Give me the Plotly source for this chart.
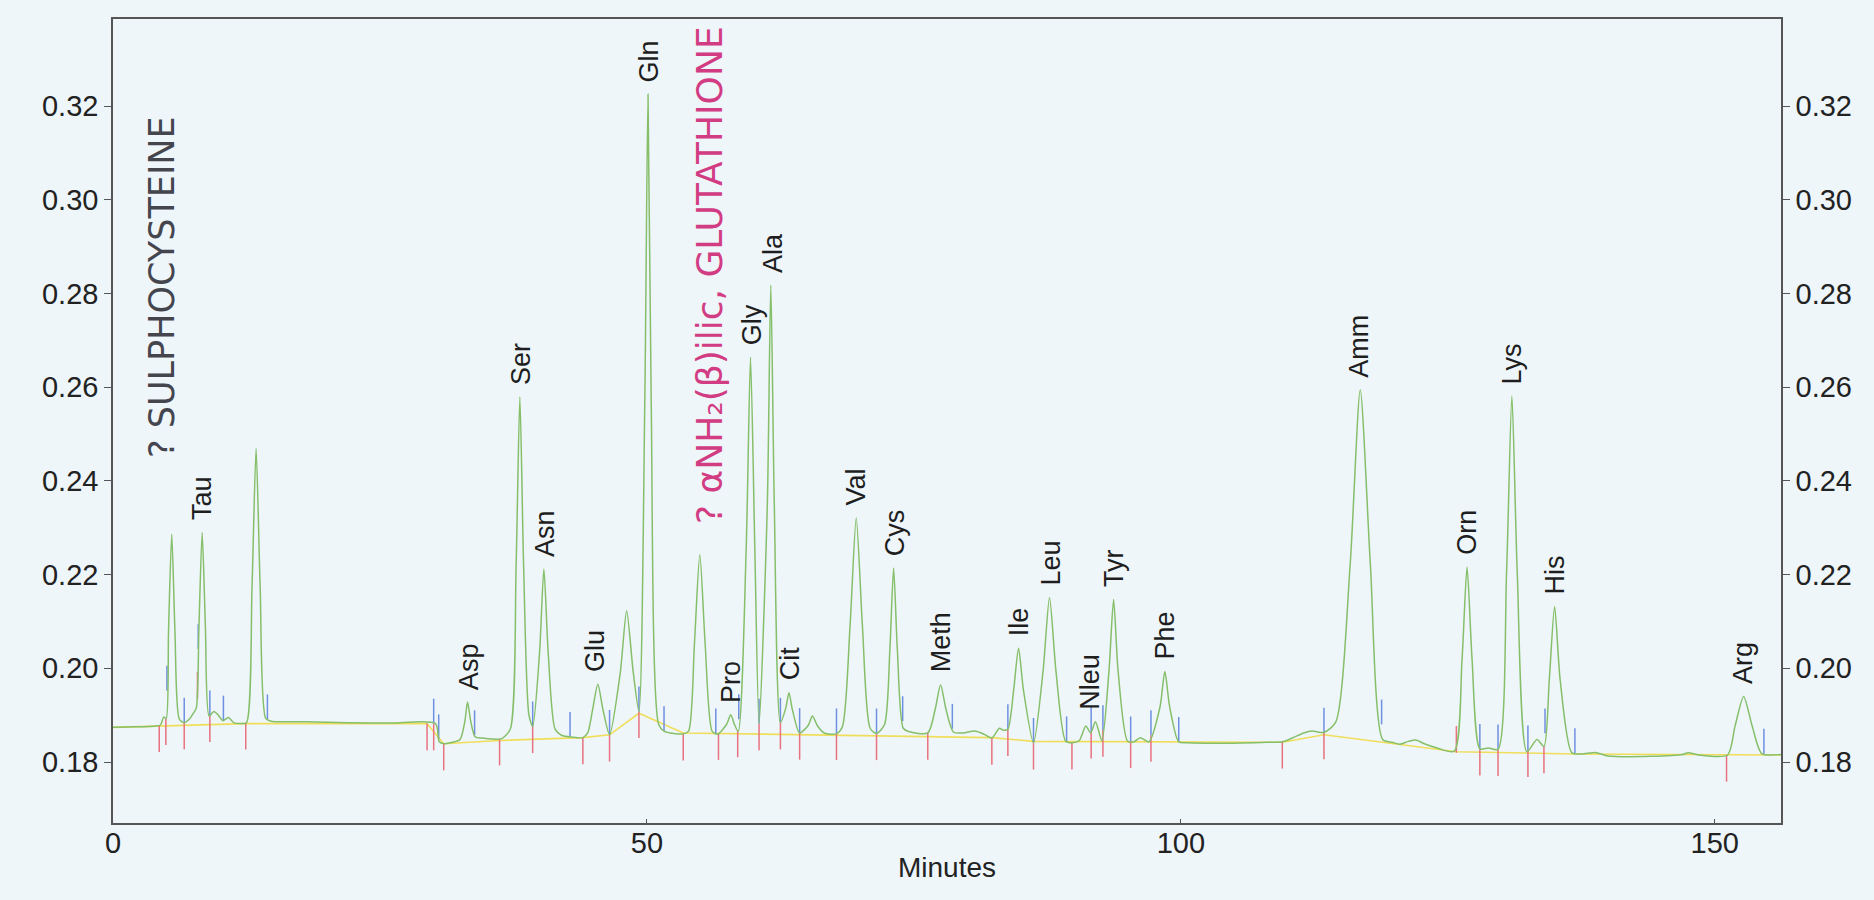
import numpy as np
import plotly.graph_objects as go

# ---------------- data ----------------
# green detector trace: retention time (minutes) and absorbance
trace_t = [0.0, 2.0, 4.0, 4.45, 4.75, 4.98, 5.2, 5.5, 5.8, 6.2, 6.65,
           7.2, 7.55, 7.8, 8.05, 8.35, 8.65, 9.0,
           9.45, 9.9, 10.3, 10.8, 11.3, 12.0, 12.5,
           13.02, 13.4, 13.78, 14.3, 14.8,
           18.0, 22.0, 26.0, 30.2, 30.55, 31.0, 31.8, 32.5,
           32.95, 33.2, 33.5, 33.9, 34.6, 35.5, 36.4,
           37.2, 37.75, 38.1, 38.45, 38.95, 39.3,
           39.95, 40.35, 40.75, 41.4, 42.0, 43.0, 44.0,
           44.45, 44.9, 45.4, 45.9, 46.5,
           47.5, 48.1, 48.7, 49.25,
           49.8, 50.1, 50.4, 51.1, 51.6, 52.5, 53.4,
           53.9, 54.45, 54.95, 55.45, 56.1, 56.6,
           57.45, 57.85, 58.2, 58.55,
           59.3, 59.7, 60.1, 60.5,
           61.27, 61.6, 61.93, 62.5,
           63.0, 63.3, 63.62, 64.3,
           65.1, 65.5, 65.95, 66.6, 67.7,
           68.3, 69.02, 69.6, 70.18, 70.9, 71.5,
           72.25, 72.75, 73.1, 73.45, 74.0, 74.5, 76.3,
           77.0, 77.5, 78.0, 78.7, 79.6, 80.7, 81.6, 82.3, 83.0, 83.4, 83.8,
           84.35, 84.8, 85.25, 86.2,
           87.1, 87.7, 88.3, 89.2, 89.8,
           90.5, 91.1, 91.55, 92.0, 92.6,
           93.27, 93.7, 94.12, 95.0, 95.6, 96.2, 97.0,
           98.05, 98.5, 98.95, 99.8, 100.6,
           104.0, 108.0, 109.5, 110.6, 111.5, 112.3, 113.4,
           114.5, 115.85, 116.8, 117.75, 118.9, 119.8, 120.5, 121.3, 122.0, 122.8, 124.0, 125.6,
           126.33, 126.8, 127.27, 128.0, 128.8, 129.7,
           130.5, 131.0, 131.5, 132.4, 133.35, 134.0,
           134.5, 135.0, 135.52, 136.6, 137.5, 138.9, 140.0, 144.0, 147.0, 147.5, 148.5, 151.2,
           151.9, 152.7, 153.5, 154.4, 156.2]
trace_v = [0.1874, 0.1875, 0.1877, 0.1879, 0.1896, 0.1893, 0.2080, 0.2286, 0.2080, 0.1892, 0.1884,
           0.1893, 0.1905, 0.1915, 0.2090, 0.2290, 0.2090, 0.1898,
           0.1908, 0.1899, 0.1888, 0.1895, 0.1884, 0.1882, 0.1884,
           0.2175, 0.2469, 0.2175, 0.1893, 0.1887,
           0.1886, 0.1884, 0.1883, 0.1882, 0.1843, 0.1839, 0.1842, 0.1848,
           0.1887, 0.1928, 0.1887, 0.1854, 0.1851, 0.1849, 0.1850,
           0.1870, 0.2220, 0.2579, 0.2220, 0.1900, 0.1876,
           0.2035, 0.2212, 0.2035, 0.1870, 0.1857, 0.1853, 0.1852,
           0.1862, 0.1910, 0.1966, 0.1910, 0.1858,
           0.1990, 0.2123, 0.1995, 0.1908,
           0.2570, 0.3225, 0.2570, 0.1880, 0.1866, 0.1861, 0.1860,
           0.1866, 0.2053, 0.2243, 0.2053, 0.1866, 0.1859,
           0.1880, 0.1901, 0.1880, 0.1865,
           0.2260, 0.2664, 0.2260, 0.1882,
           0.2345, 0.2818, 0.2345, 0.1884,
           0.1915, 0.1948, 0.1912, 0.1862,
           0.1878, 0.1898, 0.1878, 0.1862, 0.1860,
           0.1875, 0.2090, 0.2321, 0.2090, 0.1872, 0.1861,
           0.1880, 0.2040, 0.2214, 0.2040, 0.1872, 0.1865, 0.1862,
           0.1913, 0.1965, 0.1913, 0.1864, 0.1862, 0.1866, 0.1859, 0.1851, 0.1872, 0.1868, 0.1870,
           0.1955, 0.2043, 0.1955, 0.1841,
           0.1995, 0.2151, 0.1995, 0.1845, 0.1841,
           0.1846, 0.1877, 0.1862, 0.1886, 0.1846,
           0.1995, 0.2147, 0.1995, 0.1845, 0.1843, 0.1852, 0.1843,
           0.1918, 0.1993, 0.1918, 0.1843, 0.1841,
           0.1840, 0.1842, 0.1843, 0.1853, 0.1862, 0.1866, 0.1863,
           0.1885, 0.2220, 0.2594, 0.2220, 0.1848, 0.1842, 0.1838, 0.1844, 0.1847, 0.1839, 0.1830, 0.1823,
           0.2019, 0.2216, 0.2019, 0.1828, 0.1830, 0.1827,
           0.2205, 0.2581, 0.2205, 0.1822, 0.1848, 0.1833,
           0.1975, 0.2132, 0.1975, 0.1820, 0.1817, 0.1820, 0.1813, 0.1812, 0.1816, 0.1820, 0.1815, 0.1815,
           0.1877, 0.1940, 0.1877, 0.1818, 0.1816]

# yellow integration baseline
base_t = [0.0, 4.3, 12.4, 29.4, 30.97, 36.2, 44.0, 46.5, 49.25, 53.4, 67.7,
          82.3, 86.2, 97.2, 109.5, 113.4, 118.8, 125.8, 136.9, 151.1, 156.2]
base_v = [0.1874, 0.1877, 0.1882, 0.1882, 0.1839, 0.1846, 0.1852, 0.1858, 0.1904, 0.1862, 0.1857,
          0.1852, 0.1844, 0.1843, 0.1842, 0.1858, 0.1842, 0.1822, 0.1817, 0.1815, 0.1815]

# red (peak start) and blue (peak end) integration markers, minutes
red_t = [4.33, 4.95, 6.67, 7.91, 9.07, 12.43, 29.41, 30.03, 30.97, 36.2, 39.3, 44.0,
         46.5, 49.25, 53.4, 56.7, 58.5, 60.5, 62.5, 64.3, 67.75, 71.5, 76.3, 82.3,
         83.8, 86.2, 89.8, 91.6, 92.7, 95.3, 97.2, 109.5, 113.4, 125.8, 128.0, 129.7,
         132.5, 134.0, 151.1]
blue_t = [5.05, 6.67, 7.98, 9.07, 10.34, 14.46, 30.03, 30.5, 33.86, 39.3, 42.8, 46.5,
          49.25, 51.6, 56.45, 58.6, 60.5, 62.5, 64.3, 67.75, 71.5, 73.95, 78.6, 83.8,
          86.2, 89.3, 91.6, 92.7, 95.3, 97.2, 99.8, 113.4, 118.8, 128.0, 129.7, 132.5,
          134.1, 136.9, 154.6]

# peak names
label_names = ["Tau", "Asp", "Ser", "Asn", "Glu", "Gln", "Pro", "Gly", "Ala", "Cit",
               "Val", "Cys", "Meth", "Ile", "Leu", "Nleu", "Tyr", "Phe", "Amm", "Orn",
               "Lys", "His", "Arg"]
label_t = [8.4, 33.3, 38.2, 40.5, 45.2, 50.2, 57.8, 59.8, 61.8, 63.4,
           69.6, 73.2, 77.5, 84.8, 87.8, 91.5, 93.8, 98.5, 116.7, 126.8,
           131.0, 135.0, 152.7]
label_v = [0.2290, 0.1928, 0.2579, 0.2212, 0.1966, 0.3225, 0.1901, 0.2664, 0.2818, 0.1948,
           0.2321, 0.2214, 0.1965, 0.2043, 0.2151, 0.1886, 0.2147, 0.1993, 0.2594, 0.2216,
           0.2581, 0.2132, 0.1940]

# handwritten notes
note_text = ["? SULPHOCYSTEINE", "? αNH₂(β)ilic, GLUTATHIONE"]
note_t = [4.6, 55.8]
note_v = [0.2814, 0.2839]
note_size = [35, 36]
note_color = ["#45454e", "#d23c82"]

y_ticks = [0.18, 0.20, 0.22, 0.24, 0.26, 0.28, 0.30, 0.32]
x_ticks = [0, 50, 100, 150]

# ---------------- styles ----------------
BG = "#eef6fa"
FONT = "Liberation Sans, Arial, sans-serif"
RED_LEN = 0.0057
BLUE_LEN = 0.0053
X_RANGE = [0, 156.2]
Y_RANGE = [0.16698, 0.33858]


def marker_segments(times, up):
    xs, ys = [], []
    for t in times:
        y0 = float(np.interp(t, trace_t, trace_v))
        y1 = y0 + BLUE_LEN if up else y0 - RED_LEN
        xs += [t, t, None]
        ys += [y0, y1, None]
    return xs, ys


fig = go.Figure()

fig.add_trace(go.Scatter(x=base_t, y=base_v, mode="lines",
                         line=dict(color="#f0de5a", width=1.6), hoverinfo="skip"))

rx, ry = marker_segments(red_t, up=False)
bx, by = marker_segments(blue_t, up=True)
fig.add_trace(go.Scatter(x=rx, y=ry, mode="lines",
                         line=dict(color="#e8727e", width=1.5), hoverinfo="skip"))
fig.add_trace(go.Scatter(x=bx, y=by, mode="lines",
                         line=dict(color="#6f8fe0", width=1.5), hoverinfo="skip"))

fig.add_trace(go.Scatter(x=trace_t, y=trace_v, mode="lines",
                         line=dict(color="#86bf6a", width=1.5, shape="spline", smoothing=0.7),
                         hoverinfo="skip"))

# invisible trace to carry the right-hand axis
fig.add_trace(go.Scatter(x=[X_RANGE[0]], y=[Y_RANGE[0]], yaxis="y2", mode="markers",
                         marker=dict(opacity=0), hoverinfo="skip"))

for name, t, v in zip(label_names, label_t, label_v):
    fig.add_annotation(x=t, y=v, text=name, showarrow=False, textangle=-90,
                       xanchor="center", yanchor="bottom", yshift=10,
                       font=dict(family=FONT, size=27, color="#1e1e1e"))

for txt, t, v, s, c in zip(note_text, note_t, note_v, note_size, note_color):
    fig.add_annotation(x=t, y=v, text=txt, showarrow=False, textangle=-90,
                       xanchor="center", yanchor="middle",
                       font=dict(family="DejaVu Sans, sans-serif", size=s, color=c))

axis_common = dict(showgrid=False, zeroline=False, showline=True,
                   linecolor="#555555", linewidth=1.5,
                   tickfont=dict(family=FONT, size=29, color="#222222"),
                   tickcolor="#555555", automargin=False)

fig.update_layout(
    width=1874, height=900,
    margin=dict(l=113, r=93, t=19, b=77),
    paper_bgcolor=BG, plot_bgcolor=BG,
    showlegend=False,
    xaxis=dict(range=X_RANGE, tickvals=x_ticks, ticks="inside", ticklen=4,
               mirror=True, ticklabelstandoff=-7,
               title=dict(text="Minutes", standoff=0,
                          font=dict(family=FONT, size=28, color="#222222")),
               **axis_common),
    yaxis=dict(range=Y_RANGE, tickvals=y_ticks, tickformat=".2f",
               ticks="outside", ticklen=7, **axis_common),
    yaxis2=dict(range=Y_RANGE, tickvals=y_ticks, tickformat=".2f",
                overlaying="y", side="right", ticks="outside", ticklen=7,
                **axis_common),
)

fig.write_html("out.html", config={"displayModeBar": False},
               post_script="document.body.style.margin='0px';document.body.style.overflow='hidden';")
